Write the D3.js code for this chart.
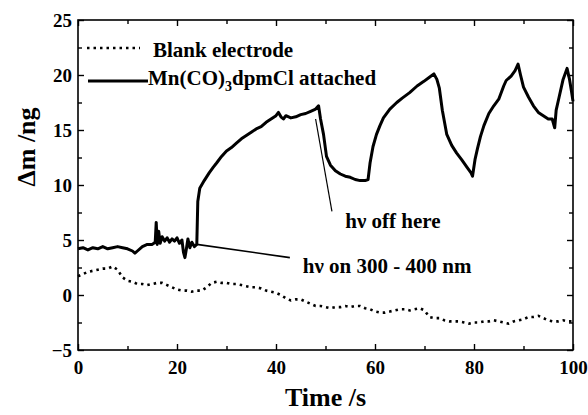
<!DOCTYPE html>
<html>
<head>
<meta charset="utf-8">
<script src="https://cdn.jsdelivr.net/npm/d3@7"></script>
<style>
  body { margin: 0; background: #fff; }
  svg { display: block; }
  svg text { font-family: "Liberation Serif", "Times New Roman", Times, "DejaVu Serif", serif; font-weight: 700; }
</style>
</head>
<body>
<svg id="chart" width="588" height="415"></svg>
<script>
// Mn(CO)3dpmCl attached electrode (solid)
const mnTime = [0, 1, 2, 3, 4, 5, 6, 7, 8, 9, 10, 11, 11.5, 12, 13, 14, 15, 15.6, 15.8, 16, 16.3, 16.6, 17, 17.5, 18, 18.5, 19, 19.5, 20, 20.5, 21, 21.3, 21.6, 21.9, 22.2, 22.6, 23, 23.5, 24, 24.2, 24.6, 25.5, 26.5, 27.3, 28, 29, 30, 31, 32, 33, 34, 35, 36, 37, 38, 39, 40, 40.5, 41, 41.5, 42, 43, 44, 45, 46, 47, 48, 48.6, 49, 49.6, 50.2, 51, 52, 53, 54, 55, 56, 57, 58, 58.6, 59, 59.6, 60.3, 61, 61.7, 63, 64.4, 65.5, 67, 68.5, 69.8, 71, 71.9, 72.5, 73, 73.6, 74.5, 75.5, 76.5, 77.5, 78.6, 79.4, 79.7, 80.2, 80.7, 81.3, 82, 83, 84, 85, 86, 86.5, 87.5, 88.3, 88.9, 89.4, 90, 91, 92, 93, 94, 95, 95.8, 96.3, 96.6, 97.2, 98, 98.8, 99.3, 99.7, 100];
const mnMass = [4.2, 4.3, 4.1, 4.3, 4.2, 4.4, 4.2, 4.3, 4.4, 4.3, 4.2, 4.0, 3.8, 4.0, 4.4, 4.6, 4.6, 4.8, 6.6, 4.6, 5.8, 4.7, 5.3, 4.9, 5.2, 4.8, 5.1, 4.9, 5.2, 4.7, 5.0, 3.9, 3.4, 4.2, 5.1, 4.3, 4.8, 4.4, 4.6, 8.5, 9.7, 10.4, 11.1, 11.6, 12.0, 12.6, 13.1, 13.4, 13.8, 14.2, 14.5, 14.8, 15.1, 15.3, 15.7, 16.0, 16.3, 16.6, 16.2, 16.0, 16.3, 16.1, 16.2, 16.4, 16.5, 16.7, 16.9, 17.2, 16.0, 14.6, 12.6, 11.8, 11.3, 11.0, 10.8, 10.7, 10.5, 10.4, 10.4, 10.5, 12.0, 13.5, 14.6, 15.4, 16.1, 16.9, 17.5, 17.9, 18.4, 19.0, 19.4, 19.8, 20.1, 19.6, 18.8, 16.8, 14.6, 13.6, 12.9, 12.3, 11.6, 11.1, 10.8, 12.3, 13.3, 14.4, 15.4, 16.5, 17.2, 17.8, 19.0, 19.5, 19.9, 20.4, 21.0, 20.0, 18.9, 18.0, 17.2, 16.6, 16.3, 16.0, 16.0, 15.2, 16.8, 18.0, 19.6, 20.6, 19.6, 18.5, 17.6];

// Blank electrode (dotted)
const blankTime = d3.range(0, 101);
const blankMass = [1.7, 1.9, 2.1, 2.2, 2.3, 2.4, 2.4, 2.6, 2.3, 1.6, 1.3, 1.2, 1.0, 1.0, 0.9, 1.0, 1.1, 1.1, 0.9, 0.7, 0.5, 0.4, 0.4, 0.3, 0.4, 0.4, 0.7, 1.1, 1.2, 1.1, 1.1, 1.0, 1.0, 0.9, 0.8, 0.7, 0.7, 0.6, 0.4, 0.3, 0.2, 0.0, -0.3, -0.5, -0.4, -0.4, -0.6, -0.8, -1.0, -1.0, -1.1, -1.2, -1.1, -1.1, -1.0, -1.1, -1.0, -1.0, -1.2, -1.3, -1.5, -1.6, -1.6, -1.5, -1.4, -1.3, -1.3, -1.4, -1.3, -1.2, -1.4, -2.0, -2.1, -2.1, -2.3, -2.4, -2.4, -2.4, -2.5, -2.6, -2.5, -2.5, -2.4, -2.4, -2.3, -2.4, -2.5, -2.6, -2.4, -2.3, -2.2, -2.0, -2.0, -1.9, -2.1, -2.3, -2.4, -2.4, -2.3, -2.4, -2.4];

const xTicks = [0, 20, 40, 60, 80, 100];
const xMinor = [10, 30, 50, 70, 90];
const yTicks = [-5, 0, 5, 10, 15, 20, 25];
const yMinor = [-2.5, 2.5, 7.5, 12.5, 17.5, 22.5];

const svg = d3.select("#chart");
const margin = { top: 20, right: 15, bottom: 65, left: 78 };
const innerW = 495, innerH = 330;

const g = svg.append("g").attr("transform", `translate(${margin.left},${margin.top})`);

const x = d3.scaleLinear().domain([0, 100]).range([0, innerW]);
const y = d3.scaleLinear().domain([-5, 25]).range([innerH, 0]);

// Frame
g.append("rect")
  .attr("width", innerW).attr("height", innerH)
  .attr("fill", "none").attr("stroke", "#000").attr("stroke-width", 1.6);

function styleAxis(sel) {
  sel.attr("font-family", null).attr("font-size", null);
  sel.select(".domain").remove();
  sel.selectAll("line").attr("stroke", "#000").attr("stroke-width", 1.4);
  sel.selectAll("text").attr("fill", "#000").style("font-size", "19px");
}

// Axes (ticks inward)
g.append("g").attr("transform", `translate(0,${innerH})`)
  .call(d3.axisBottom(x).tickValues(xTicks).tickSize(-6).tickPadding(11))
  .call(styleAxis);
g.append("g").attr("transform", `translate(0,${innerH})`)
  .call(d3.axisBottom(x).tickValues(xMinor).tickSize(-4).tickFormat(""))
  .call(styleAxis);
g.append("g")
  .call(d3.axisTop(x).tickValues(xTicks).tickSize(-6).tickFormat(""))
  .call(styleAxis);
g.append("g")
  .call(d3.axisTop(x).tickValues(xMinor).tickSize(-4).tickFormat(""))
  .call(styleAxis);

g.append("g")
  .call(d3.axisLeft(y).tickValues(yTicks).tickSize(-6).tickPadding(6))
  .call(styleAxis);
g.append("g")
  .call(d3.axisLeft(y).tickValues(yMinor).tickSize(-4).tickFormat(""))
  .call(styleAxis);
g.append("g").attr("transform", `translate(${innerW},0)`)
  .call(d3.axisRight(y).tickValues(yTicks).tickSize(-6).tickFormat(""))
  .call(styleAxis);
g.append("g").attr("transform", `translate(${innerW},0)`)
  .call(d3.axisRight(y).tickValues(yMinor).tickSize(-4).tickFormat(""))
  .call(styleAxis);

// Lines
const line = d3.line().x(d => x(d[0])).y(d => y(d[1]));

g.append("path")
  .datum(blankTime.map((t, i) => [t, blankMass[i]]))
  .attr("d", line)
  .attr("fill", "none").attr("stroke", "#000")
  .attr("stroke-width", 2.6).attr("stroke-dasharray", "2.5,4");

g.append("path")
  .datum(mnTime.map((t, i) => [t, mnMass[i]]))
  .attr("d", line)
  .attr("fill", "none").attr("stroke", "#000")
  .attr("stroke-width", 3).attr("stroke-linejoin", "round");

// Annotations
g.append("line")
  .attr("x1", x(48)).attr("y1", y(16))
  .attr("x2", x(51.3)).attr("y2", y(7.6))
  .attr("stroke", "#000").attr("stroke-width", 1.2);
g.append("text")
  .attr("x", x(54)).attr("y", y(6.1))
  .style("font-size", "21px")
  .text("hν off here");

g.append("line")
  .attr("x1", x(24)).attr("y1", y(4.6))
  .attr("x2", x(42.8)).attr("y2", y(3.4))
  .attr("stroke", "#000").attr("stroke-width", 1.6);
g.append("text")
  .attr("x", x(45.4)).attr("y", y(2))
  .style("font-size", "21px")
  .text("hν on 300 - 400 nm");

// Legend
const leg = g.append("g");
leg.append("line")
  .attr("x1", 9).attr("x2", 62).attr("y1", 28).attr("y2", 28)
  .attr("stroke", "#000").attr("stroke-width", 2.6).attr("stroke-dasharray", "2.5,4");
leg.append("text").attr("x", 75).attr("y", 37)
  .style("font-size", "21px").text("Blank electrode");
leg.append("line")
  .attr("x1", 10).attr("x2", 70).attr("y1", 61).attr("y2", 61)
  .attr("stroke", "#000").attr("stroke-width", 3);
const t2 = leg.append("text").attr("x", 70).attr("y", 65).style("font-size", "21px");
t2.append("tspan").text("Mn(CO)");
t2.append("tspan").attr("dy", 6).style("font-size", "14px").text("3");
t2.append("tspan").attr("dy", -6).text("dpmCl attached");

// Axis titles
svg.append("text")
  .attr("transform", `translate(35,147) rotate(-90)`)
  .attr("text-anchor", "middle")
  .style("font-size", "26px")
  .text("Δm /ng");
svg.append("text")
  .attr("x", margin.left + innerW / 2).attr("y", 406)
  .attr("text-anchor", "middle")
  .style("font-size", "26px")
  .text("Time /s");
</script>
</body>
</html>
